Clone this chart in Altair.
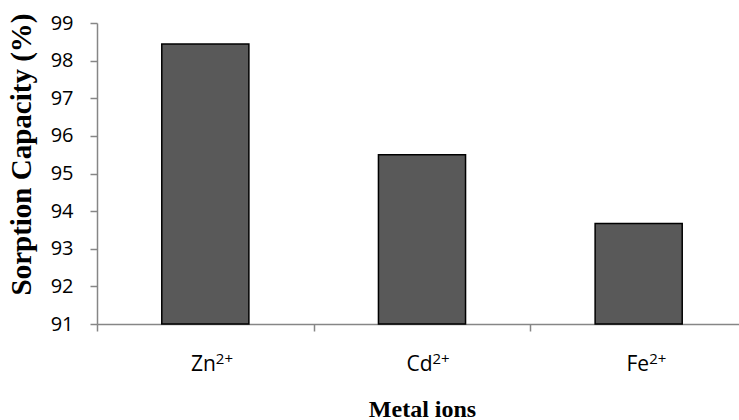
import altair as alt
import pandas as pd

ions = ["Zn", "Cd", "Fe"]
charges = ["2+", "\u20022+", "2+"]
capacity = [98.44, 95.5, 93.67]
y_ticks = [91, 92, 93, 94, 95, 96, 97, 98, 99]
y_min, y_max = 91, 99

df = pd.DataFrame({"ion": ions, "charge": charges, "capacity": capacity})

axis_grey = "#868686"
PLOT_H = 301

x_enc = alt.X("ion:N", sort=ions,
              scale=alt.Scale(range=[0, 650], paddingInner=0, paddingOuter=0),
              axis=alt.Axis(title="Metal ions", tickBand="extent", labels=False,
                            domainColor=axis_grey, domainWidth=1.5,
                            tickColor=axis_grey, tickWidth=1.5, tickSize=7,
                            titleFont="Liberation Serif", titleFontWeight="bold",
                            titleFontSize=24, titleColor="#000000",
                            titleX=325, titleY=92, titleBaseline="alphabetic",
                            titleAlign="center"))

bars = alt.Chart(df).mark_bar(
    color="#595959", stroke="#000000", strokeWidth=1.5,
    width=alt.RelativeBandSize(0.402)
).encode(
    x=x_enc,
    y=alt.Y("capacity:Q",
            scale=alt.Scale(domain=[y_min, y_max], nice=False, zero=False),
            axis=alt.Axis(title="Sorption Capacity (%)", values=y_ticks, grid=False,
                          domainColor=axis_grey, domainWidth=1.5,
                          tickColor=axis_grey, tickWidth=1.5, tickSize=7,
                          labelFont="Open Sans", labelFontSize=20, labelColor="#000000",
                          labelPadding=17,
                          titleFont="Liberation Serif", titleFontWeight="bold",
                          titleFontSize=29, titleColor="#000000", titleAngle=270,
                          titleX=-67, titleY=131, titleBaseline="alphabetic",
                          titleAlign="center")),
    y2=alt.datum(y_min),
)

base_text = alt.Chart(df).mark_text(
    font="Open Sans", fontSize=21, color="#000000",
    align="right", baseline="alphabetic", dx=10.5
).encode(
    x=alt.X("ion:N", sort=ions),
    y=alt.value(PLOT_H + 47),
    text="ion:N",
)

sup_text = alt.Chart(df).mark_text(
    font="Open Sans", fontSize=15, color="#000000",
    align="left", baseline="alphabetic", dx=10.5
).encode(
    x=alt.X("ion:N", sort=ions),
    y=alt.value(PLOT_H + 40),
    text="charge:N",
)

chart = alt.layer(bars, base_text, sup_text).properties(
    width=642, height=PLOT_H,
    autosize=alt.AutoSizeParams(type="none"),
    padding={"left": 97, "top": 23, "right": 0, "bottom": 96},
    background="#ffffff",
).configure_view(stroke=None)

chart.save("out.html", embed_options={"renderer": "svg", "actions": False})
